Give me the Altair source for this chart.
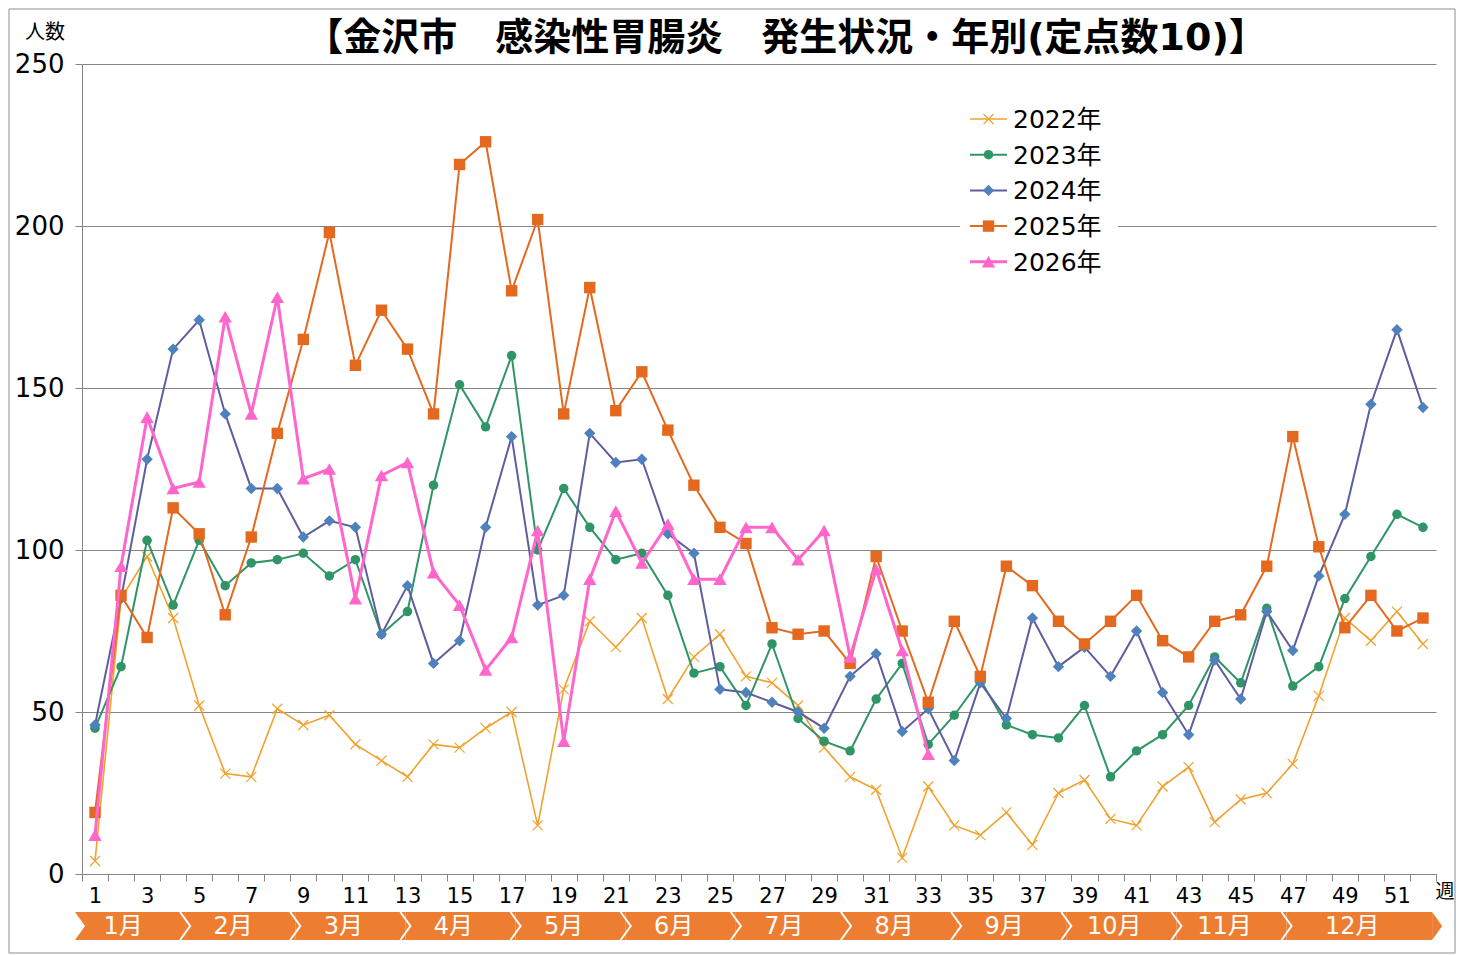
import altair as alt
import pandas as pd

# ---------------- data ----------------
weeks = list(range(1, 53))
years = ["2022年", "2023年", "2024年", "2025年", "2026年"]

y2022 = [4, 85, 98, 79, 52, 31, 30, 51, 46, 49, 40, 35, 30, 40, 39, 45, 50, 15, 57, 78,
         70, 79, 54, 67, 74, 61, 59, 52, 39, 30, 26, 5, 27, 15, 12, 19, 9, 25, 29, 17,
         15, 27, 33, 16, 23, 25, 34, 55, 79, 72, 81, 71]
y2023 = [45, 64, 103, 83, 103, 89, 96, 97, 99, 92, 97, 74, 81, 120, 151, 138, 160, 100, 119, 107,
         97, 99, 86, 62, 64, 52, 71, 48, 41, 38, 54, 65, 40, 49, 60, 46, 43, 42, 52, 30,
         38, 43, 52, 67, 59, 82, 58, 64, 85, 98, 111, 107]
y2024 = [46, 85, 128, 162, 171, 142, 119, 119, 104, 109, 107, 74, 89, 65, 72, 107, 135, 83, 86, 136,
         127, 128, 105, 99, 57, 56, 53, 50, 45, 61, 68, 44, 51, 35, 59, 48, 79, 64, 70, 61,
         75, 56, 43, 66, 54, 81, 69, 92, 111, 145, 168, 144]
y2025 = [19, 86, 73, 113, 105, 80, 104, 136, 165, 198, 157, 174, 162, 142, 219, 226, 180, 202, 142, 181,
         143, 155, 137, 120, 107, 102, 76, 74, 75, 65, 98, 75, 53, 78, 61, 95, 89, 78, 71, 78,
         86, 72, 67, 78, 80, 95, 135, 101, 76, 86, 75, 79]
y2026 = [12, 95, 141, 119, 121, 172, 142, 178, 122, 125, 85, 123, 127, 93, 83, 63, 73, 106, 41, 91,
         112, 96, 108, 91, 91, 107, 107, 97, 106, 67, 94, 69, 37]

series_values = [y2022, y2023, y2024, y2025, y2026]
month_labels = [f"{m}月" for m in range(1, 13)]
y_ticks = [0, 50, 100, 150, 200, 250]

title_text = "【金沢市　感染性胃腸炎　発生状況・年別(定点数10)】"
y_title_text = "人数"
x_unit_text = "週"

# ---------------- styles ----------------
line_colors = ["#F0A22E", "#2F9566", "#5E5E9E", "#E4691E", "#FF66CC"]
marker_colors = ["#F0A22E", "#2F9566", "#4F81BD", "#E4691E", "#FF66CC"]
line_widths = [1.6, 2.0, 2.0, 2.0, 3.0]
marker_shapes = ["M-1,-1L1,1M-1,1L1,-1", "circle", "diamond", "square", "triangle-up"]
marker_sizes = [100, 90, 130, 130, 180]
band_color = "#ED7D31"
grid_color = "#868686"
FONT = "Noto Sans CJK JP"
NUMFONT = "DejaVu Sans, Noto Sans CJK JP"

W, H = 1354, 810

xscale = alt.Scale(domain=[0.5, 52.5], nice=False, zero=False)
yscale = alt.Scale(domain=[0, 250], nice=False, zero=True)

boundary_vals = [i + 0.5 for i in range(0, 53)]
x_axis = alt.Axis(
    values=boundary_vals,
    labelExpr="((datum.value + 0.5) % 2 == 1 && datum.value < 52) ? format(datum.value + 0.5, 'd') : ''",
    labelOffset=13,
    labelFlush=False,
    labelOverlap=False,
    labelBound=False,
    grid=False,
    title=None,
    domainColor=grid_color,
    tickColor=grid_color,
    tickSize=7,
    labelPadding=4,
    labelFontSize=21,
    labelFont=NUMFONT,
    labelColor="#000000",
)
y_axis = alt.Axis(
    values=y_ticks,
    grid=True,
    gridColor=grid_color,
    gridWidth=1,
    domainColor=grid_color,
    tickColor=grid_color,
    tickSize=7,
    labelPadding=11,
    labelFontSize=26,
    labelFont=NUMFONT,
    labelColor="#000000",
    title=None,
)

one = pd.DataFrame({"k": [0]})
layers = []

# series
for i, vals in enumerate(series_values):
    df = pd.DataFrame({"week": weeks[: len(vals)], "value": vals, "year": years[i]})
    base = alt.Chart(df).encode(
        x=alt.X("week:Q", scale=xscale, axis=x_axis),
        y=alt.Y("value:Q", scale=yscale, axis=y_axis),
    )
    layers.append(base.mark_line(color=line_colors[i], strokeWidth=line_widths[i]))
    if i == 0:
        layers.append(base.mark_point(shape=marker_shapes[i], filled=False, color=marker_colors[i],
                                      strokeWidth=1.2, size=marker_sizes[i], opacity=1))
    else:
        layers.append(base.mark_point(shape=marker_shapes[i], filled=True, color=marker_colors[i],
                                      size=marker_sizes[i], opacity=1, strokeWidth=0))

# frame
layers.append(
    alt.Chart(one).mark_rect(fill=None, stroke="#8C8C8C", strokeWidth=1).encode(
        x=alt.value(-73), x2=alt.value(1373), y=alt.value(-55), y2=alt.value(889)
    )
)

# legend (white box + entries)
layers.append(
    alt.Chart(one).mark_rect(color="white").encode(
        x=alt.value(878), x2=alt.value(1036), y=alt.value(34), y2=alt.value(218)
    )
)
for i, name in enumerate(years):
    ly = 55 + 35.7 * i
    ldf = pd.DataFrame({"label": [name]})
    layers.append(alt.Chart(ldf).mark_rule(color=line_colors[i], strokeWidth=line_widths[i]).encode(
        x=alt.value(888), x2=alt.value(925), y=alt.value(ly)))
    if i == 0:
        layers.append(alt.Chart(ldf).mark_point(shape=marker_shapes[i], filled=False, color=marker_colors[i],
                                                strokeWidth=1.2, size=marker_sizes[i], opacity=1).encode(
            x=alt.value(906.5), y=alt.value(ly)))
    else:
        layers.append(alt.Chart(ldf).mark_point(shape=marker_shapes[i], filled=True, color=marker_colors[i],
                                                size=marker_sizes[i], opacity=1, strokeWidth=0).encode(
            x=alt.value(906.5), y=alt.value(ly)))
    layers.append(alt.Chart(ldf).mark_text(align="left", baseline="middle", font=NUMFONT, fontSize=25,
                                           color="#000000").encode(
        x=alt.value(931), y=alt.value(ly + 1), text="label:N"))

# month band
m_start, m_step, m_end = 0.23, 4.23, 52.35
edges = [m_start + m_step * k for k in range(12)] + [m_end]
mdf = pd.DataFrame({"month": month_labels, "x0": edges[:-1], "x1": edges[1:]})
mdf["xm"] = (mdf["x0"] + mdf["x1"]) / 2
band_y0, band_y1 = 848, 876
band_mid = (band_y0 + band_y1) / 2
layers.append(alt.Chart(mdf).mark_rect(color=band_color).encode(
    x=alt.X("x0:Q", scale=xscale, axis=x_axis), x2="x1:Q",
    y=alt.value(band_y0), y2=alt.value(band_y1)))
# right tip
tip = mdf.tail(1)
layers.append(alt.Chart(tip).mark_point(shape="M0,-1L0.72,0L0,1Z", filled=True, color=band_color,
                                        size=784, opacity=1, strokeWidth=0).encode(
    x=alt.X("x1:Q", scale=xscale, axis=x_axis), y=alt.value(band_mid)))
# left notch
first = mdf.head(1)
layers.append(alt.Chart(first).mark_point(shape="M0,-1L0.72,0L0,1Z", filled=True, color="white",
                                          size=784, opacity=1, strokeWidth=0).encode(
    x=alt.X("x0:Q", scale=xscale, axis=x_axis), y=alt.value(band_mid)))
# chevron separators
sep = mdf.iloc[1:]
layers.append(alt.Chart(sep).mark_point(shape="M-0.36,-1L0.36,0L-0.36,1", filled=False, color="white",
                                        size=784, opacity=1, strokeWidth=2).encode(
    x=alt.X("x0:Q", scale=xscale, axis=x_axis), y=alt.value(band_mid)))
layers.append(alt.Chart(mdf).mark_text(color="white", font=NUMFONT, fontSize=24, baseline="middle",
                                       align="center", dx=-7).encode(
    x=alt.X("xm:Q", scale=xscale, axis=x_axis), y=alt.value(band_mid + 1), text="month:N"))

# texts
tdf = pd.DataFrame({"t": [title_text]})
layers.append(alt.Chart(tdf).mark_text(font=NUMFONT, fontSize=38, fontWeight="bold", color="#000000",
                                       align="center", baseline="middle").encode(
    x=alt.value(704), y=alt.value(-25), text="t:N"))
ydf = pd.DataFrame({"t": [y_title_text]})
layers.append(alt.Chart(ydf).mark_text(font=FONT, fontSize=20, color="#000000",
                                       align="center", baseline="middle").encode(
    x=alt.value(-37), y=alt.value(-31), text="t:N"))
wdf = pd.DataFrame({"t": [x_unit_text]})
layers.append(alt.Chart(wdf).mark_text(font=FONT, fontSize=19, color="#000000",
                                       align="center", baseline="middle").encode(
    x=alt.value(1363), y=alt.value(828), text="t:N"))

chart = alt.layer(*layers).properties(
    width=W, height=H,
    autosize=alt.AutoSizeParams(type="none"),
    padding={"left": 74, "top": 56, "right": 20, "bottom": 81},
    background="white",
).configure_view(stroke=None)

chart.save("out.html", embed_options={"renderer": "svg", "actions": False})
